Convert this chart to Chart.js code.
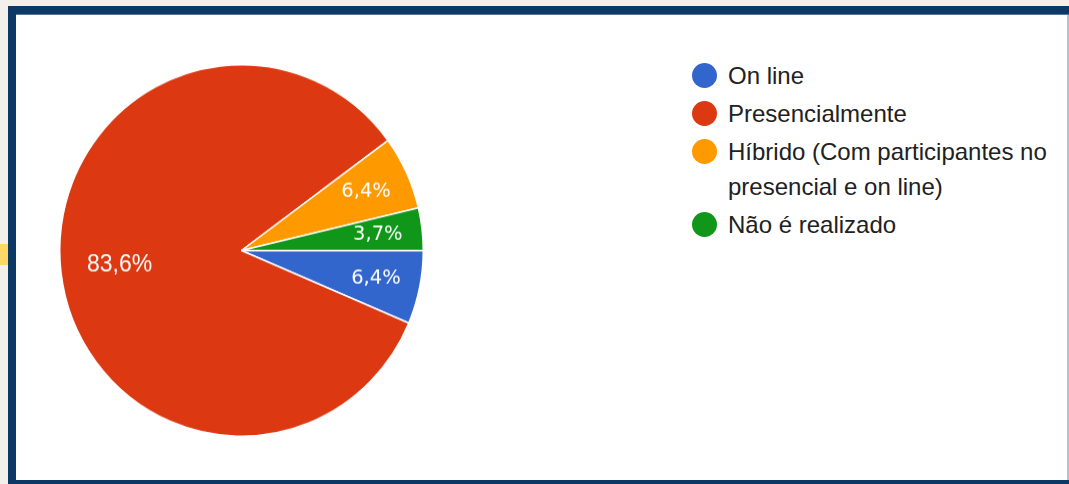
<!DOCTYPE html>
<html><head><meta charset="utf-8">
<script src="https://cdn.jsdelivr.net/npm/chart.js@4"></script>
<style>
html,body{margin:0;padding:0;width:1069px;height:484px;overflow:hidden;background:#f3efea;}
#frame{position:absolute;left:8px;top:6px;width:1100px;height:500px;background:#0b3864;}
#yellow{position:absolute;left:0;top:244px;width:8px;height:21px;background:#fdd866;}
#inner{position:absolute;left:16px;top:15px;width:1051px;height:465px;background:#fff;}
#edge{position:absolute;left:1067px;top:15px;width:2px;height:465px;background:#b3c1d1;}
#topline{position:absolute;left:16px;top:14px;width:1053px;height:1px;background:#5a7697;}
#pieBox{position:absolute;left:59px;top:67.5px;width:365px;height:365px;transform:scaleY(1.022);transform-origin:50% 50%;}
#legend{position:absolute;left:692px;top:58px;width:370px;font-family:"Liberation Sans",Arial,sans-serif;font-size:24px;color:#212121;}
.item{position:relative;padding-left:36px;line-height:35px;margin-bottom:3px;}
.dot{position:absolute;left:0;top:4.5px;width:25px;height:25px;border-radius:50%;}
</style></head>
<body>
<div id="yellow"></div>
<div id="frame"></div>
<div id="inner"></div>
<div id="topline"></div>
<div id="edge"></div>
<div id="pieBox"><canvas id="c"></canvas></div>
<div id="legend"></div>
<script>
const categories = ["On line", "Presencialmente", "Híbrido (Com participantes no presencial e on line)", "Não é realizado"];
const percentages = [6.4, 83.6, 6.4, 3.7];
const colors = ["#3366cc", "#dc3912", "#ff9900", "#109618"];

const labelPlugin = {
  id: 'sliceLabels',
  afterDatasetsDraw(chart) {
    const ctx = chart.ctx;
    const meta = chart.getDatasetMeta(0);
    const data = chart.data.datasets[0].data;
    meta.data.forEach((arc, i) => {
      const p = arc.getProps(['x','y','startAngle','endAngle','outerRadius'], true);
      const mid = (p.startAngle + p.endAngle) / 2;
      const big = data[i] > 50;
      const r = p.outerRadius * (big ? 0.675 : 0.755);
      const x = p.x + Math.cos(mid) * r;
      const y = p.y + Math.sin(mid) * r;
      ctx.save();
      ctx.fillStyle = '#ffffff';
      ctx.textAlign = 'center';
      ctx.textBaseline = 'middle';
      ctx.font = big ? '23px "Liberation Sans", Arial, sans-serif' : '19.5px "DejaVu Sans", Verdana, sans-serif';
      ctx.fillText(data[i].toFixed(1).replace('.', ',') + '%', x, y);
      ctx.restore();
    });
  }
};

new Chart(document.getElementById('c'), {
  type: 'pie',
  data: {
    labels: categories,
    datasets: [{
      data: percentages,
      backgroundColor: colors,
      borderColor: '#ffffff',
      borderWidth: 1.5,
      hoverOffset: 0
    }]
  },
  options: {
    responsive: true,
    maintainAspectRatio: false,
    animation: false,
    rotation: 90,
    layout: { padding: 0 },
    plugins: { legend: { display: false }, tooltip: { enabled: false } },
    events: []
  },
  plugins: [labelPlugin]
});

const legend = document.getElementById('legend');
categories.forEach((name, i) => {
  const item = document.createElement('div');
  item.className = 'item';
  const dot = document.createElement('span');
  dot.className = 'dot';
  dot.style.background = colors[i];
  item.appendChild(dot);
  item.appendChild(document.createTextNode(name));
  legend.appendChild(item);
});
</script>
</body></html>
